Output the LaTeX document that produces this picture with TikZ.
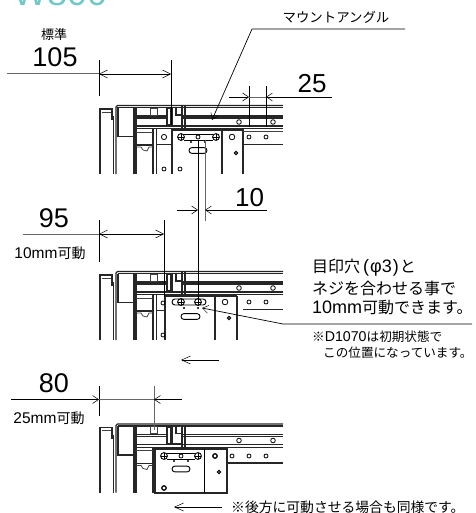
\documentclass[tikz,border=0pt]{standalone}
\usepackage{fontspec}
\setmainfont{Liberation Sans}
\newfontfamily\jpfont{Noto Sans CJK JP}
\newfontfamily\latfont{Liberation Sans}
\usetikzlibrary{arrows.meta}
\definecolor{titleteal}{RGB}{112,200,200}

\tikzset{
    rail/.style={line width=1.2pt, black!85},
    thin rail/.style={line width=0.8pt, black!75},
    dim/.style={line width=0.7pt, black},
    ext/.style={line width=0.8pt, black},
    greydim/.style={line width=1pt, black!60},
    openarrow/.style={-{Straight Barb[length=6pt,width=8pt,line width=0.5pt]}, line width=0.7pt},
    longtip/.style={{Straight Barb[length=8pt,width=8pt,line width=0.5pt]}-{Straight Barb[length=8pt,width=8pt,line width=0.5pt]}},
    number/.style={inner sep=0pt, font=\fontsize{27}{27}\selectfont},
    caption/.style={inner sep=0pt, font=\jpfont\fontsize{14}{14}\selectfont},
    note/.style={inner sep=0pt, anchor=west, font=\jpfont\fontsize{16}{16}\selectfont},
    smallnote/.style={inner sep=0pt, anchor=west, font=\jpfont\fontsize{12.6}{12.6}\selectfont}
}

% size, text
\newcommand{\lat}[2]{{\latfont\fontsize{#1}{#1}\selectfont #2}}
% x, y, radius
\newcommand{\hole}[3]{\draw[line width=0.8pt] (#1,#2) circle[radius=#3pt];}
\newcommand{\screw}[2]{
    \draw[line width=0.9pt] (#1,#2) circle[radius=3.4pt];
    \draw[line width=0.8pt] (#1-3.4,#2) -- (#1+3.4,#2) (#1,#2-3.4) -- (#1,#2+3.4);
}
\newcommand{\slot}[3]{
    \draw[line width=0.9pt, rounded corners=2.9pt] (#1,#3-2.9) rectangle (#2,#3+2.9);
}

% the part common to all three sections
\newcommand{\railset}[1]{
    \begin{scope}[shift={(0,#1)}]
        \draw[rail, line width=1.3pt] (100,174) -- (100,109) -- (112,109) -- (112,120);
        \draw[thin rail] (101.5,112) -- (111,112);
        \draw[rail] (113.5,116) -- (113.5,174);
        \draw[rail, rounded corners=1.5pt] (116,174) -- (116,105.5) -- (283,105.5);
        \draw[rail] (118,107.5) -- (283,107.5);
        \draw[rail] (118,107.5) -- (118,136.5) -- (134,136.5);
        \draw[rail] (134,107.5) -- (134,174) (136,107.5) -- (136,174);
        \draw[rail] (136,116) -- (283,116) (136,118) -- (283,118);
        \draw[rail] (136,126) -- (283,126) (136,128.7) -- (283,128.7);
        \draw[thin rail, fill=white] (150.5,108) rectangle (157,115);
        % clip on the rail
        \draw[rail, fill=white] (167,108.5) rectangle (170.5,125);
        \draw[rail, line width=1.4pt, fill=white] (172,116) -- (172,125.5) -- (182,125.5) -- (182,107);
        \draw[rail] (172,108) -- (172,116) (176,108) -- (176,115) -- (182,115);
        \draw[rail] (171,128.7) -- (185,128.7) -- (185,106);
        \draw[rail] (182,106) -- (182,130);
        % left part below the rail
        \draw[rail] (153,129) -- (153,174) (156.5,129) -- (156.5,174);
        \draw[rail] (136,145) -- (153,145);
        \draw[thin rail] (136,147) -- (141,147) -- (143,150) -- (147,151) -- (149,147) -- (153,147);
        \draw[thin rail] (136,132) -- (153,132);
        \draw[rail] (134.5,134) -- (137,134) (134.5,137.5) -- (137,137.5);
        \hole{239}{122}{2.3}
        \hole{273}{122}{2.3}
    \end{scope}
}

\begin{document}
\begin{tikzpicture}[x=1pt, y=-1pt, >=stealth]
    \useasboundingbox (0,0) rectangle (475,513);
    \clip (0,0) rectangle (475,513);

    \node[text=titleteal, font=\fontsize{36}{36}\selectfont, anchor=base west, inner sep=0pt] (title) at (13,6) {W800};

    % top section
    \railset{0}
    \draw[rail] (172,129) -- (172,174) (222,129) -- (222,174) (243,129) -- (243,174);
    \draw[rail, line width=1.4pt] (172,130) -- (243,130);
    \draw[rail] (156.5,144.5) -- (172,144.5) (243,144.5) -- (283,144.5);
    \draw[thin rail] (243,131) -- (283,131);
    \hole{164}{137}{2.6}
    \hole{232}{137}{2.8}
    \hole{249}{137}{2}
    \hole{266}{137}{2}
    \hole{164}{169}{2}
    \hole{180}{169}{2}
    \draw[line width=1.1pt] (236,153) circle[radius=1.6pt];
    \screw{181}{137}
    \screw{216}{137}
    \draw[line width=0.8pt] (184,134) -- (213,134) (184,140) -- (213,140);
    \hole{198}{137}{2}
    \fill (191,142) circle[radius=1.2pt] (205,142) circle[radius=1.2pt];
    \slot{189}{207}{150.5}

    % middle section
    \railset{166}
    \draw[rail] (165,296) -- (165,340) (215,296) -- (215,340) (237,296) -- (237,340);
    \draw[rail, line width=1.4pt] (165,296) -- (237,296);
    \draw[rail] (243,309.5) -- (283,309.5) (156.5,310.5) -- (165,310.5);
    \hole{225}{302}{2.8}
    \hole{249}{302}{2}
    \hole{266}{302}{2}
    \hole{163}{335}{2}
    \hole{163}{303}{2}
    \draw[line width=1.1pt] (229,318) circle[radius=1.6pt];
    \draw[line width=0.9pt, rounded corners=3pt] (172,299) rectangle (206,305);
    \screw{181}{302}
    \screw{198}{302}
    \fill (184,308) circle[radius=1.2pt] (198,308) circle[radius=1.2pt];
    \slot{181}{200}{316.5}

    % bottom section
    \railset{318.5}
    \draw[rail, fill=white] (155,449) rectangle (227,493);
    \draw[line width=0.9pt] (204,449) -- (204,493);
    \draw[rail] (227,463) -- (283,463);
    \draw[line width=1.3pt] (215,456) circle[radius=2.2pt];
    \draw[line width=1.1pt] (219,472) circle[radius=1.6pt];
    \draw[line width=1.3pt] (164,488) circle[radius=2.2pt];
    \hole{232}{456}{2}
    \hole{249}{456}{2}
    \hole{266}{456}{2}
    \screw{164}{456}
    \screw{198}{456}
    \draw[line width=0.8pt] (167,453) -- (195,453) (167,459) -- (195,459);
    \hole{181}{456}{2}
    \fill (174,461) circle[radius=1.2pt] (188,461) circle[radius=1.2pt];
    \slot{172}{190}{469}

    % dimension 105
    \coordinate (a105) at (99,74);
    \coordinate (b105) at (171,74);
    \node[number] (n105) at (55,57.5) {105};
    \node[caption, font=\jpfont\fontsize{13}{13}\selectfont] (std) at (54,35) {標準};
    \draw[ext] (99,60) -- (99,96);
    \draw[ext] (171,60) -- (171,125);
    \draw[greydim] (7,74) -- (a105);
    \draw[longtip, line width=0.7pt] (a105) -- (b105);

    % dimension 25
    \coordinate (a25) at (249,97);
    \coordinate (b25) at (266,97);
    \node[number, font=\fontsize{26}{26}\selectfont] (n25) at (312,84) {25};
    \draw[ext] (249,86) -- (249,127) (266,86) -- (266,127);
    \draw[openarrow] (229,97) -- (a25);
    \draw[openarrow] (332,97) -- (b25);
    \draw[dim, black!60] (a25) -- (b25);

    % mount angle leader
    \node[caption, font=\jpfont\fontsize{13.4}{13.4}\selectfont] (mount) at (336,17) {マウントアングル};
    \coordinate (mount tip) at (212,120);
    \draw[openarrow] (405,29) -- (252,29) -- (mount tip);

    % dimension 10
    \coordinate (a10) at (198,210);
    \coordinate (b10) at (205,210);
    \node[number, font=\fontsize{26}{26}\selectfont] (n10) at (249.5,198) {10};
    \draw[ext] (198,140) -- (198,306);
    \draw[greydim] (205,140) -- (205,221);
    \draw[openarrow] (177,210) -- (a10);
    \draw[openarrow] (267,210) -- (b10);

    % dimension 95
    \coordinate (a95) at (99,234);
    \coordinate (b95) at (164,234);
    \node[number] (n95) at (54,218) {95};
    \node[caption] (move10) at (50,253.5) {\lat{15.5}{10mm}可動};
    \draw[ext] (99,220) -- (99,262);
    \draw[ext] (164,220) -- (164,297);
    \draw[greydim] (23,234) -- (a95);
    \draw[longtip, line width=0.7pt] (a95) -- (b95);

    % right hand notes
    \node[note] (note1) at (312,267.5) {目印穴\hspace{3pt}\lat{18}{(\hspace{1pt}φ3\hspace{1pt})}\hspace{1pt}と};
    \node[note] (note2) at (312,288) {ネジを合わせる事で};
    \node[note] (note3) at (312,307.5) {\lat{18}{10mm}可動できます。};
    \coordinate (knee) at (283,324);
    \coordinate (hole tip) at (202,308);
    \draw[openarrow] (472,324) -- (knee) -- (hole tip);
    \node[smallnote] (note4) at (312,337) {※\lat{14.2}{D1070}は初期状態で};
    \node[smallnote] (note5) at (323,353) {この位置になっています。};
    \coordinate (mid from) at (219,360);
    \coordinate (mid to) at (181,360);
    \draw[openarrow, -{Straight Barb[length=9pt,width=8pt,line width=0.5pt]}] (mid from) -- (mid to);

    % dimension 80
    \coordinate (a80) at (99,399.5);
    \coordinate (b80) at (154,399.5);
    \node[number] (n80) at (54,383) {80};
    \node[caption] (move25) at (49,418) {\lat{15.5}{25mm}可動};
    \draw[ext] (99,386) -- (99,416);
    \draw[greydim] (154,386) -- (154,430);
    \draw[openarrow] (11,399.5) -- (a80);
    \draw[openarrow] (182,399.5) -- (b80);
    \draw[dim, black!60] (a80) -- (b80);

    % bottom note
    \coordinate (low from) at (222,507);
    \coordinate (low to) at (174,507);
    \draw[openarrow, -{Straight Barb[length=9pt,width=8pt,line width=0.5pt]}] (low from) -- (low to);
    \node[smallnote, font=\jpfont\fontsize{13.8}{13.8}\selectfont] (note6) at (231,507) {※後方に可動させる場合も同様です。};
\end{tikzpicture}
\end{document}
